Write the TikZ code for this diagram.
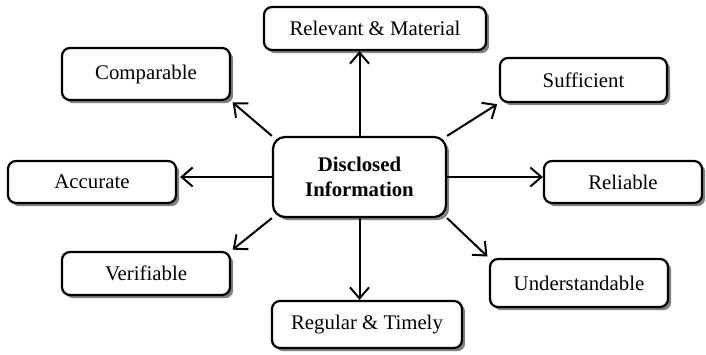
\documentclass[tikz,border=0pt]{standalone}
\usepackage{fontspec}
\setmainfont{Liberation Serif}
\usetikzlibrary{shadows, arrows.meta, positioning}

\tikzset{
	infobox/.style={draw, line width=1.1pt, rounded corners=4pt, fill=white, align=center, inner sep=2pt,
		general shadow={fill=black!50, shadow xshift=1.6pt, shadow yshift=-1.6pt}},
	mainbox/.style={infobox, rounded corners=6pt, font=\fontsize{10.4pt}{12.5pt}\selectfont\bfseries},
	link/.style={line width=1pt, -{Straight Barb[length=5.5pt,width=9.5pt]}}
}

\begin{document}
\begin{tikzpicture}[x=0.5pt, y=-0.5pt, font=\fontsize{10.4pt}{12.5pt}\selectfont]
	\useasboundingbox (0,0) rectangle (706,354);
	
	% Centre box
	\node[mainbox, minimum width=86.5pt, minimum height=40pt] (info) at (359.5,177) {Disclosed\\Information};
	
	% Surrounding qualities
	\node[infobox, minimum width=111pt, minimum height=21.5pt] (relevant) at (375,28.5) {Relevant \& Material};
	\node[infobox, minimum width=84pt, minimum height=26pt] (comparable) at (146,74) {Comparable};
	\node[infobox, minimum width=83.5pt, minimum height=22pt] (sufficient) at (583.5,80) {Sufficient};
	\node[infobox, minimum width=84pt, minimum height=21pt] (accurate) at (92,182) {Accurate};
	\node[infobox, minimum width=79pt, minimum height=21pt] (reliable) at (623,182) {Reliable};
	\node[infobox, minimum width=84pt, minimum height=21.5pt] (verifiable) at (146,273.5) {Verifiable};
	\node[infobox, minimum width=89pt, minimum height=24pt] (understandable) at (579,283) {Understandable};
	\node[infobox, minimum width=95pt, minimum height=23.5pt] (regular) at (367,324.5) {Regular \& Timely};
	
	% Arrows out of the centre
	\draw[link] (info.north) -- (info.north |- relevant.south);
	\draw[link] (info.south) -- (info.south |- regular.north);
	\draw[link, shorten >=1.5pt] (info.west) -- (info.west -| accurate.east);
	\draw[link] (info.east) -- (info.east -| reliable.west);
	\draw[link, shorten >=1pt] (info.north west) -- (comparable.south east);
	\draw[link, shorten >=1pt] (info.north east) -- (sufficient.south west);
	\draw[link, shorten >=1pt] (info.south west) -- (verifiable.north east);
	\draw[link, shorten >=1pt] (info.south east) -- (understandable.north west);
	
\end{tikzpicture}
\end{document}
